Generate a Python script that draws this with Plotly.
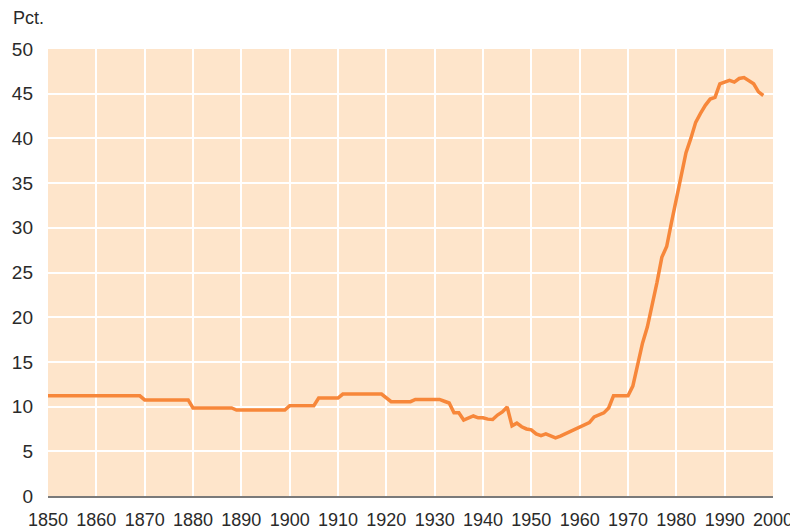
import plotly.graph_objects as go

years = [1850, 1869, 1870, 1879, 1880, 1888, 1889, 1899, 1900, 1905, 1906, 1910,
         1911, 1919, 1921, 1925, 1926, 1931, 1932, 1933, 1934, 1935, 1936, 1937,
         1938, 1939, 1940, 1941, 1942, 1943, 1944, 1945, 1946, 1947, 1948, 1949,
         1950, 1951, 1952, 1953, 1954, 1955, 1956, 1957, 1958, 1959, 1960, 1961,
         1962, 1963, 1964, 1965, 1966, 1967, 1968, 1969, 1970, 1971, 1972, 1973,
         1974, 1975, 1976, 1977, 1978, 1979, 1980, 1981, 1982, 1983, 1984, 1985,
         1986, 1987, 1988, 1989, 1990, 1991, 1992, 1993, 1994, 1995, 1996, 1997,
         1998]
pct = [11.2, 11.2, 10.75, 10.75, 9.85, 9.85, 9.62, 9.62, 10.1, 10.1, 10.95, 10.95,
       11.4, 11.4, 10.55, 10.55, 10.8, 10.8, 10.6, 10.4, 9.3, 9.3, 8.5, 8.7,
       8.95, 8.75, 8.75, 8.6, 8.55, 9.05, 9.4, 9.95, 7.85, 8.15, 7.75, 7.5,
       7.4, 6.95, 6.75, 6.95, 6.75, 6.5, 6.7, 6.95, 7.2, 7.45, 7.8, 8.0,
       8.2, 8.85, 9.05, 9.3, 9.85, 11.2, 11.2, 11.2, 11.2, 12.3, 14.9, 17.1,
       18.9, 21.2, 23.9, 26.7, 27.9, 30.6, 33.1, 35.7, 38.4, 40.0, 41.8, 42.8,
       43.7, 44.4, 44.6, 46.1, 46.3, 46.5, 46.3, 46.7, 46.8, 46.5, 46.1, 45.2,
       44.8]

x_ticks = list(range(1850, 2001, 10))
y_ticks = list(range(0, 51, 5))

fig = go.Figure()
fig.add_trace(go.Scatter(
    x=years, y=pct, mode="lines",
    line=dict(color="#F7873A", width=3.5),
    hoverinfo="x+y", showlegend=False,
))

font_family = "Liberation Sans, Arial, Helvetica, sans-serif"

# page body has an 8px default margin; size the figure so it fits the window
fig.update_layout(
    width=790, height=524,
    margin=dict(l=40, r=25, t=41, b=36),
    paper_bgcolor="white",
    plot_bgcolor="#FEE5CB",
    font=dict(family=font_family, color="#2a2a2a"),
    xaxis=dict(
        range=[1850, 2000], tickvals=x_ticks, ticktext=[str(v) for v in x_ticks],
        showgrid=True, gridcolor="white", gridwidth=2,
        zeroline=False, showline=True, linecolor="#7a7a7a", linewidth=2,
        ticks="", ticklabelstandoff=6, automargin=False,
        tickfont=dict(size=18, color="#2a2a2a"),
    ),
    yaxis=dict(
        range=[0, 50], tickvals=y_ticks, ticktext=[str(v) for v in y_ticks],
        showgrid=True, gridcolor="white", gridwidth=2,
        zeroline=False, showline=False,
        ticks="", ticklabelstandoff=14, automargin=False,
        tickfont=dict(size=19, color="#2a2a2a"),
    ),
    annotations=[dict(
        text="Pct.", xref="paper", yref="paper",
        x=-37 / 725, y=1 + 31 / 447, xanchor="left", yanchor="middle",
        showarrow=False, font=dict(size=18, color="#2a2a2a", family=font_family),
    )],
)

fig.write_html("out.html")
